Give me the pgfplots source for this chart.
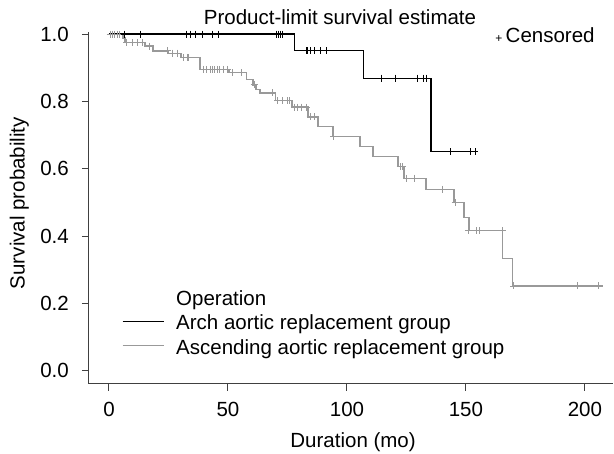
\documentclass[border=0pt]{standalone}
\usepackage{fontspec}
\setmainfont{Liberation Sans}
\usepackage{pgfplots}
\pgfplotsset{compat=1.18}
\definecolor{kmgray}{HTML}{999999}
\definecolor{axgray}{HTML}{404040}
\newcommand{\fsz}{\fontsize{20.5}{24}\selectfont}

\begin{document}
\begin{tikzpicture}
\begin{axis}[
  at={(0,0)}, anchor=south west,
  scale only axis, width=524pt, height=352pt,
  xmin=-8.4, xmax=211.8, ymin=-0.039, ymax=1.006,
  axis x line=bottom, axis y line=left,
  axis line style={axgray, line width=1pt, -},
  tick style={axgray, line width=1pt},
  tick align=outside, major tick length=7pt,
  xtick={0,50,100,150,200}, ytick={0,0.2,0.4,0.6,0.8,1.0},
  clip=false,
  font=\fsz,
  tick label style={font=\fsz, inner sep=0pt},
  /pgf/number format/assume math mode=true,
  xticklabel style={anchor=north, yshift=-10.7pt},
  yticklabel style={anchor=east, xshift=-13pt, /pgf/number format/.cd, fixed, fixed zerofill, precision=1},
  title={Product-limit survival estimate},
  title style={font=\fsz, inner sep=0pt, at={(axis description cs:0.479,1.003)}, anchor=base},
  xlabel={Duration (mo)},
  xlabel style={font=\fsz, inner sep=0pt, at={(axis description cs:0.504,-0.179)}, anchor=base},
  ylabel={Survival probability},
  ylabel style={font=\fsz, inner sep=0pt, at={(axis description cs:-0.1145,0.514)}, anchor=south},
  legend cell align=left,
  legend image code/.code={\draw[#1] (0pt,3.4pt) -- (41pt,3.4pt);},
  legend style={draw=none, fill=none, font=\fsz, inner sep=0pt,
    at={(axis description cs:0.063,0.267)}, anchor=north west,
    row sep=5pt, column sep=12pt,
    nodes={inner sep=0pt, text height=15pt, text depth=4.5pt}},
]
\addlegendimage{empty legend}\addlegendentry{Operation}
\addlegendimage{black, line width=1pt}\addlegendentry{Arch aortic replacement group}
\addlegendimage{kmgray, line width=1pt}\addlegendentry{Ascending aortic replacement group}

% ascending group
\addplot[kmgray, line width=1.3pt, const plot, forget plot] coordinates {
  (0,1) (5.9,0.988) (6.7,0.974) (15.1,0.964) (18.5,0.950) (24.8,0.943)
  (30.3,0.931) (38.2,0.895) (50.4,0.885) (57.8,0.864) (60.5,0.849)
  (61.8,0.836) (63.4,0.825) (70,0.802) (76.9,0.783) (83.6,0.754)
  (87.8,0.725) (94.1,0.695) (105.5,0.666) (110.9,0.636) (121.4,0.606)
  (124,0.572) (133.2,0.539) (145,0.499) (149.2,0.456) (151.3,0.416)
  (165.5,0.334) (169.7,0.252) (207.4,0.252)
};
\addplot[only marks, mark=+, mark size=3.5pt, kmgray, mark options={line width=0.9pt}, forget plot] coordinates {
  (0.5,1) (1.5,1) (2.5,1) (3.5,1) (4.5,1)
  (7.5,0.974) (9.7,0.974) (11.8,0.974) (13.9,0.974)
  (17.2,0.964) (24.4,0.950) (26.5,0.943) (28.6,0.943)
  (31.5,0.931) (32.8,0.931) (33.6,0.931)
  (39.5,0.895) (41,0.895) (42.5,0.895) (43.5,0.895) (44.5,0.895)
  (45.5,0.895) (46.5,0.895) (48,0.895) (49.6,0.895)
  (52,0.885) (55.7,0.885) (61,0.849) (68.5,0.825)
  (71,0.802) (73,0.802) (74.8,0.802) (76,0.802)
  (78,0.783) (79.4,0.783) (81,0.783) (82.8,0.783)
  (84.5,0.754) (86.5,0.754) (94.5,0.695)
  (122.3,0.606) (123.5,0.606) (125.2,0.572) (128.2,0.572)
  (140,0.539) (145.5,0.499)
  (151,0.416) (154.6,0.416) (155.5,0.416) (165.3,0.416)
  (170,0.252) (196.8,0.252) (205.6,0.252)
};

% arch group
\addplot[black, line width=1.1pt, const plot, forget plot] coordinates {
  (0,1) (78,0.95) (107,0.869) (135.3,0.65) (154,0.65)
};
\addplot[only marks, mark=+, mark size=3.5pt, black, mark options={line width=0.9pt}, forget plot] coordinates {
  (6.7,1) (13.4,1) (32.4,1) (34.3,1) (36.2,1) (39.4,1) (43.5,1) (46,1)
  (70.4,1) (71.3,1) (72.1,1) (73,1)
  (82.8,0.95) (83.6,0.95) (84.5,0.95) (86.5,0.95) (88.7,0.95) (91.5,0.95)
  (114.7,0.869) (120.2,0.869) (129.8,0.869) (132,0.869) (133.6,0.869)
  (143.3,0.65) (152,0.65) (153.8,0.65)
};

\node[font=\fsz, inner sep=0pt, anchor=base west] at (axis description cs:0.775,0.969)
  {{\fontsize{12}{12}\selectfont +}\,Censored};
\end{axis}
\pgfresetboundingbox
\path[use as bounding box] (-89pt,-70pt) rectangle (525pt,384pt);
\end{tikzpicture}
\end{document}
